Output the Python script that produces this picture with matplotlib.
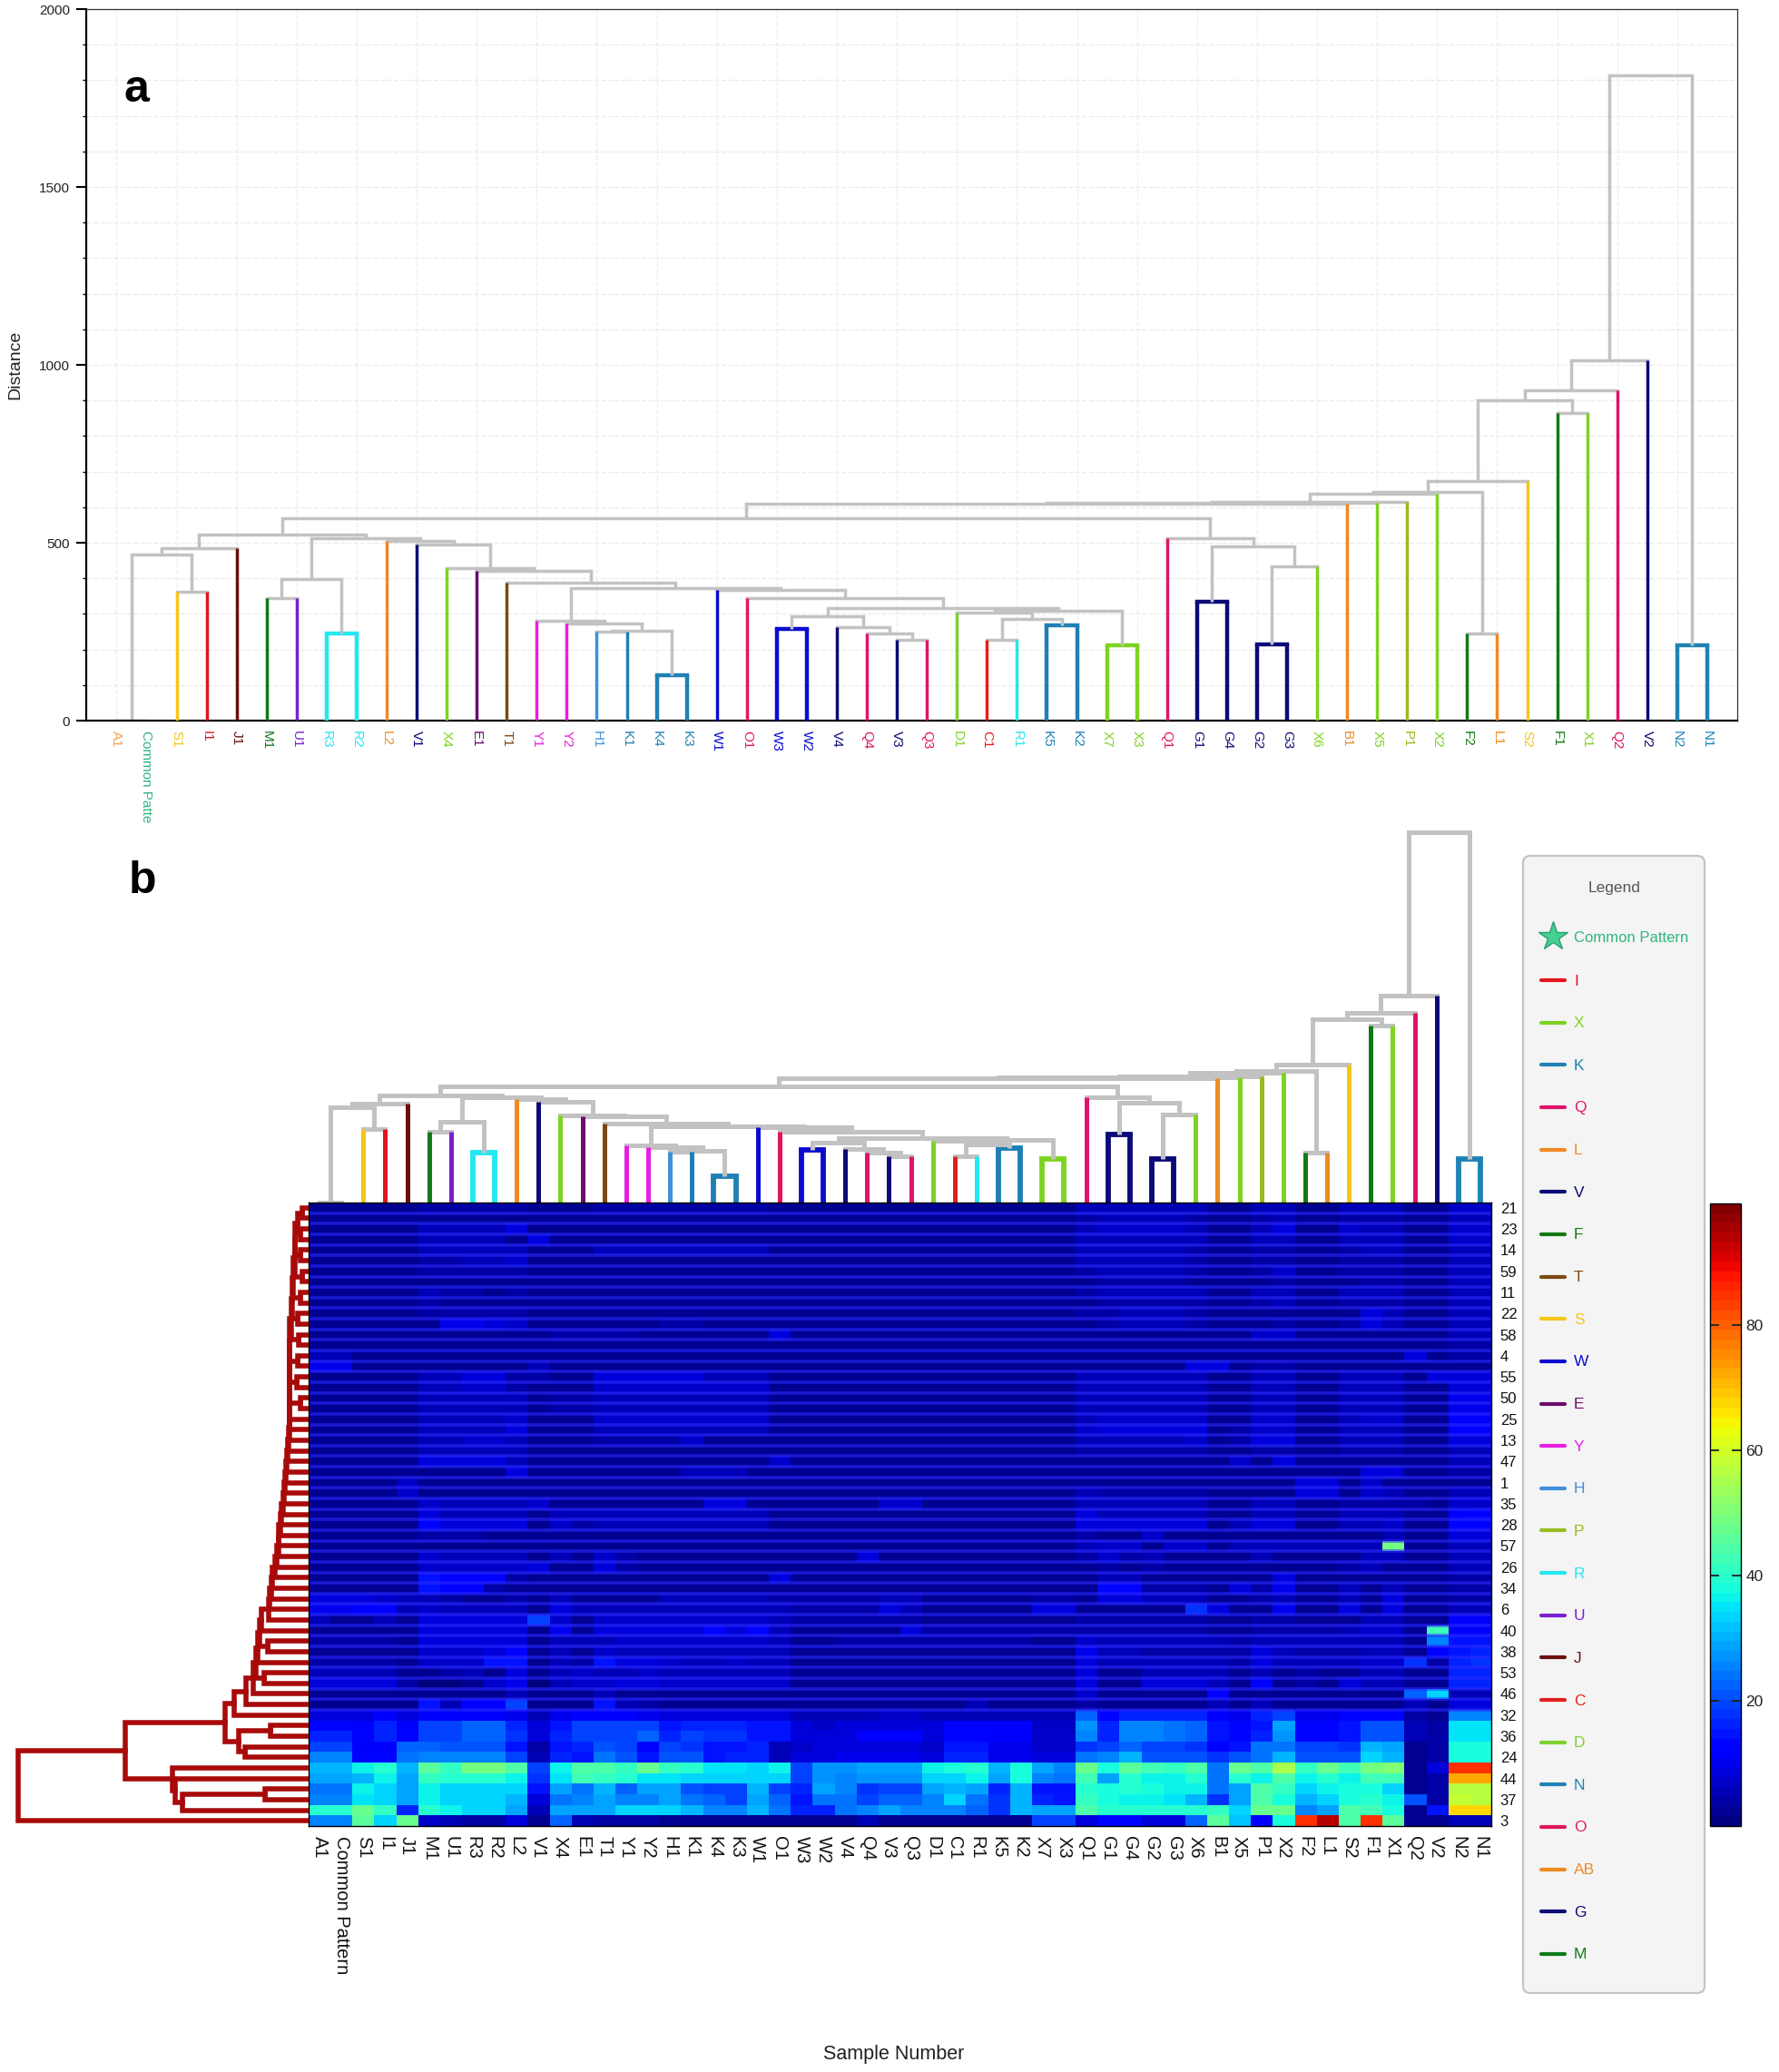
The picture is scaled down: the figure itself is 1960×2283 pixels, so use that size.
import numpy as np
import matplotlib
matplotlib.use('Agg')
import matplotlib.pyplot as plt
from matplotlib.patches import FancyBboxPatch

plt.rcParams['font.family'] = ['Liberation Sans', 'DejaVu Sans']

# sample order, same in both panels
samples = ['A1', 'Common Pattern', 'S1', 'I1', 'J1', 'M1', 'U1', 'R3', 'R2', 'L2', 'V1', 'X4', 'E1', 'T1',
           'Y1', 'Y2', 'H1', 'K1', 'K4', 'K3', 'W1', 'O1', 'W3', 'W2', 'V4', 'Q4', 'V3', 'Q3', 'D1', 'C1',
           'R1', 'K5', 'K2', 'X7', 'X3', 'Q1', 'G1', 'G4', 'G2', 'G3', 'X6', 'B1', 'X5', 'P1', 'X2', 'F2',
           'L1', 'S2', 'F1', 'X1', 'Q2', 'V2', 'N2', 'N1']

# peak numbers, only every second row is labelled
row_labels = ['21', '23', '14', '59', '11', '22', '58', '4', '55', '50', '25', '13', '47', '1', '35',
              '28', '57', '26', '34', '6', '40', '38', '53', '46', '32', '36', '24', '44', '37', '3']

legend_names = ['I', 'X', 'K', 'Q', 'L', 'V', 'F', 'T', 'S', 'W', 'E', 'Y', 'H', 'P', 'R', 'U', 'J', 'C',
                'D', 'N', 'O', 'AB', 'G', 'M']
legend_colors = ['#e2141e', '#7ed321', '#1f80b4', '#e0146a', '#f08a24', '#0a0a78', '#137a13', '#7b4a12',
                 '#f5c518', '#0b0bd0', '#6a0d6e', '#e81fe0', '#3f90d8', '#9abb1e', '#22e8f0', '#7a1fd1',
                 '#6b0f0f', '#e0201c', '#7fd030', '#1f82b4', '#e0175f', '#ee8a22', '#0a0a78', '#0e7a1a']

# sample tree: left child, right child, distance. ids above 53 are earlier merges
sample_tree = [(0, 1, 0), (2, 3, 361), (54, 55, 466), (56, 4, 485), (5, 6, 345), (7, 8, 245), (58, 59, 398),
               (16, 17, 249), (18, 19, 128), (61, 62, 252), (15, 63, 273), (14, 64, 280), (22, 23, 258),
               (26, 27, 228), (25, 67, 245), (24, 68, 264), (66, 69, 294), (29, 30, 228), (31, 32, 268),
               (71, 72, 285), (28, 73, 304), (33, 34, 213), (74, 75, 308), (70, 76, 317), (21, 77, 345),
               (20, 78, 368), (65, 79, 372), (13, 80, 388), (12, 81, 422), (11, 82, 429), (10, 83, 494),
               (9, 84, 506), (60, 85, 514), (57, 86, 523), (36, 37, 334), (38, 39, 215), (89, 40, 433),
               (88, 90, 489), (35, 91, 514), (87, 92, 570), (93, 41, 610), (94, 42, 613), (95, 43, 616),
               (96, 44, 638), (45, 46, 245), (97, 98, 643), (99, 47, 674), (48, 49, 866), (100, 101, 900),
               (102, 50, 929), (103, 51, 1014), (52, 53, 213), (104, 105, 1814)]

# row tree, same idea, ids above 58 are earlier merges
row_tree = [(0, 1, 7.5), (2, 3, 9), (4, 5, 9), (6, 7, 7.5), (8, 9, 9.5), (10, 11, 12), (12, 13, 11), (14, 15, 12),
            (16, 17, 13), (18, 19, 9),
            (59, 60, 11.7), (69, 61, 15), (70, 62, 15.5), (71, 63, 16.7), (72, 64, 18), (73, 65, 19),
            (74, 66, 20.7), (75, 67, 20.7), (76, 68, 21), (77, 20, 21), (78, 21, 21.5), (79, 22, 21.5),
            (80, 23, 22.3), (81, 24, 23), (82, 25, 24), (83, 26, 25), (84, 27, 26), (85, 28, 27), (86, 29, 28),
            (87, 30, 30), (88, 31, 31), (89, 32, 33), (90, 33, 33.5), (91, 34, 35), (92, 35, 37), (93, 36, 40),
            (94, 37, 41), (95, 38, 43), (96, 39, 44),
            (41, 42, 45), (97, 40, 52), (99, 98, 54), (100, 43, 56), (44, 45, 49), (101, 102, 58), (103, 46, 61),
            (104, 47, 69), (105, 48, 82), (49, 50, 42), (51, 52, 70), (107, 108, 77), (106, 109, 92),
            (55, 56, 48), (111, 57, 139), (54, 112, 147), (53, 113, 150), (110, 114, 202), (115, 58, 320)]

# heatmap values, one list per row, top to bottom
heat_values = [
    [3,3,3,3,3, 4,4,4,4,4, 3, 3,3,4,4,4,4,4,4,4,4, 3,3,3,3,3,3,3, 3,3,3,3,3,3,3, 5,6,6,6,6,6, 3,3,5,5,3,3,5,5,5,3,3,7,7],
    [2,2,2,2,2, 3,3,3,3,3, 3, 3,3,3,3,3,3,3,3,3,3, 3,3,3,3,3,3,3, 3,3,3,3,3,3,3, 4,5,5,5,5,4, 3,3,4,5,3,3,4,4,4,2,2,6,6],
    [3,3,3,3,3, 6,6,6,6,8, 2, 3,3,3,3,3,3,3,3,3,3, 3,3,3,3,3,3,3, 3,3,3,3,3,3,3, 5,7,7,7,7,6, 3,3,6,8,3,3,7,6,5,3,3,7,7],
    [2,2,2,2,2, 5,5,5,5,2, 8, 3,2,2,2,2,2,3,3,3,3, 3,3,3,3,3,3,3, 2,2,2,2,2,2,2, 5,5,5,5,5,5, 3,3,5,6,2,2,5,5,5,2,2,7,7],
    [3,3,3,3,3, 5,5,5,5,5, 3, 3,3,5,5,5,5,5,5,5,5, 3,3,3,3,3,3,3, 3,3,3,3,3,3,3, 5,6,6,6,6,4, 3,3,4,4,3,3,4,5,5,3,3,6,6],
    [2,2,2,2,2, 4,4,5,5,7, 2, 3,3,3,3,3,3,3,3,3,3, 3,3,3,3,3,3,3, 2,2,2,2,2,2,2, 5,5,5,5,5,4, 3,3,4,4,2,2,4,4,4,2,2,6,6],
    [3,3,3,3,3, 4,4,4,4,4, 2, 3,3,3,3,3,3,3,3,3,3, 3,3,3,3,3,3,3, 3,3,3,3,3,3,3, 4,5,5,5,5,4, 3,3,4,7,3,3,4,4,4,3,3,6,6],
    [2,2,2,2,2, 3,3,3,3,3, 2, 3,3,3,3,3,3,3,3,3,3, 2,2,2,2,2,2,2, 2,2,2,2,2,2,2, 3,4,4,4,4,3, 3,3,3,4,2,2,3,4,4,2,2,5,5],
    [3,3,3,3,3, 5,4,4,3,4, 3, 3,3,3,3,3,3,3,3,3,3, 3,3,3,3,3,3,3, 3,3,3,3,3,3,3, 4,5,5,5,5,5, 3,3,5,5,3,3,5,5,5,3,3,6,6],
    [2,2,2,2,2, 4,2,3,3,3, 2, 2,2,2,2,2,2,2,2,2,2, 2,2,2,2,2,2,2, 2,2,2,2,2,2,2, 3,4,4,4,4,4, 3,3,4,5,2,2,4,4,4,2,2,5,5],
    [3,3,3,3,3, 4,4,4,4,4, 3, 3,3,3,3,3,3,3,3,3,3, 3,3,3,3,3,3,3, 3,3,3,3,3,3,3, 4,4,5,5,5,4, 3,3,3,3,3,3,3,8,5,3,3,6,6],
    [2,2,2,2,2, 3,10,10,9,7, 2, 3,3,3,3,3,4,4,3,3,3, 3,3,3,3,3,3,3, 2,2,2,2,2,2,2, 3,4,5,5,5,4, 3,3,3,4,2,2,4,8,5,2,2,6,6],
    [3,3,3,3,3, 3,3,3,3,2, 2, 4,4,4,4,3,3,3,3,3,3, 8,3,3,3,3,3,3, 3,3,3,3,3,3,3, 3,3,3,3,3,3, 3,3,7,7,3,3,3,3,3,3,3,5,5],
    [2,2,2,2,2, 2,2,3,3,3, 2, 2,2,2,2,2,2,2,2,2,2, 2,2,2,2,2,2,2, 2,2,2,2,2,2,2, 2,2,2,2,2,2, 2,3,3,3,2,2,3,3,3,2,2,4,4],
    [6,6,3,3,3, 3,3,3,3,3, 3, 3,3,3,3,3,3,3,3,3,3, 3,3,3,3,3,3,3, 3,3,3,3,3,3,3, 3,3,3,3,3,3, 3,3,3,3,3,3,3,3,3,9,3,4,4],
    [10,10,2,2,2, 2,2,2,2,2, 5, 2,2,2,2,2,2,2,2,2,2, 2,2,2,2,2,2,2, 2,2,2,2,2,2,2, 2,2,2,2,2,8, 8,3,4,4,2,2,2,3,3,2,2,3,3],
    [3,3,3,3,3, 6,6,8,8,4, 4, 3,3,8,8,8,8,8,6,6,6, 3,3,3,3,3,3,3, 3,3,3,3,3,3,3, 6,6,6,6,6,6, 3,3,6,6,2,2,5,5,5,3,8,8,8],
    [3,3,3,3,3, 6,6,7,7,4, 2, 3,3,7,7,7,7,7,7,7,7, 3,3,3,3,3,3,3, 3,3,3,3,3,3,3, 6,6,6,6,6,6, 2,3,6,6,3,3,5,6,6,2,2,9,9],
    [2,2,2,2,2, 5,5,5,5,5, 2, 4,4,6,6,6,6,6,6,6,6, 3,3,3,3,3,3,2, 3,3,3,3,3,3,3, 5,5,5,5,5,5, 2,3,5,5,3,3,5,5,5,2,2,10,10],
    [3,3,3,3,3, 6,6,6,6,6, 2, 4,4,6,6,6,6,6,6,6,6, 3,3,3,3,3,2,2, 3,3,3,3,3,3,3, 6,5,5,5,5,5, 2,2,5,5,3,3,5,5,5,2,2,10,10],
    [2,2,2,2,2, 6,6,6,6,7, 2, 3,3,7,7,7,7,7,7,7,7, 3,3,3,3,3,3,3, 2,2,2,2,2,2,2, 6,7,7,7,7,7, 3,3,7,7,2,2,6,7,7,2,2,11,11],
    [3,3,3,3,3, 6,6,6,6,8, 2, 3,3,6,6,6,6,6,6,6,6, 3,3,3,3,3,3,3, 3,3,3,3,3,3,3, 7,8,8,8,8,8, 2,4,7,7,3,3,6,6,6,2,2,11,11],
    [2,2,2,2,2, 5,5,7,7,5, 2, 3,3,4,4,4,4,7,2,2,2, 2,2,2,2,2,2,2, 2,2,2,2,2,2,2, 5,5,5,5,5,7, 2,4,8,8,3,3,5,5,5,2,2,9,9],
    [3,3,3,3,3, 5,5,5,5,5, 2, 3,3,3,3,3,3,3,3,3,3, 3,3,3,3,3,3,3, 3,3,3,3,3,3,3, 4,4,4,4,4,4, 3,3,4,4,3,3,4,4,4,3,3,6,6],
    [2,2,2,3,3, 8,8,8,8,5, 2, 3,3,3,3,3,3,3,3,3,3, 7,2,2,2,2,2,2, 2,2,2,2,2,2,2, 3,3,3,3,3,3, 2,7,2,9,2,2,3,3,3,2,2,5,5],
    [3,3,3,3,3, 3,3,3,3,8, 2, 3,3,3,3,3,3,6,6,6,3, 3,3,3,3,3,3,3, 3,3,3,2,2,3,3, 3,3,3,3,3,3, 3,3,2,3,2,2,3,8,8,3,3,4,4],
    [3,3,3,3,7, 3,3,2,2,2, 2, 2,2,2,2,2,2,2,2,2,2, 2,2,2,2,2,2,2, 2,2,2,2,2,2,2, 3,3,3,3,3,3, 2,2,2,3,8,8,3,7,3,2,2,3,3],
    [3,3,3,3,7, 3,3,3,3,3, 3, 3,3,3,3,3,3,3,3,3,3, 3,3,3,3,3,3,3, 3,3,3,3,3,3,3, 5,4,4,4,4,4, 3,3,3,3,8,8,3,7,5,3,3,5,5],
    [2,2,2,2,2, 7,5,5,5,5, 7, 3,3,3,3,3,3,3,8,8,3, 3,3,3,3,3,7,7, 3,3,3,3,3,3,3, 5,5,5,5,5,5, 2,3,5,5,2,2,4,4,4,4,2,7,7],
    [3,3,3,3,3, 9,6,6,6,6, 2, 5,5,6,6,6,6,6,6,6,6, 3,3,3,3,3,3,3, 3,3,3,3,3,3,3, 8,5,5,5,5,5, 2,3,6,6,3,3,5,5,5,2,2,12,13],
    [2,2,2,2,2, 11,9,9,9,9, 2, 7,4,6,6,6,6,6,6,6,6, 3,3,3,3,3,3,3, 3,3,3,3,3,3,3, 8,9,9,9,9,9, 3,5,8,8,3,3,6,6,7,2,2,13,13],
    [3,3,3,3,3, 4,4,4,3,2, 2, 2,3,2,3,3,3,3,3,3,3, 3,3,3,3,3,3,3, 2,2,2,2,2,2,2, 4,2,2,7,3,3, 3,3,3,3,3,3,3,3,6,3,3,8,8],
    [3,3,3,3,3,3,2,3,3,3, 3,3,3,3,3,3,3,3,3,3, 3,3,3,3,3,3,3,3, 3,3,3,3,3,3,3, 5,7,7,2,7,7,3,5,5,5,5,5,5,5,49,2,2,5,5],
    [3,3,3,3,3,7,6,6,6,5,3,6,3,7,4,3,3,3,3,3,3,3,3,3,3,8,3,3, 3,3,3,3,3,3,3, 4,7,4,6,2,2,3,3,6,3,3,3,3,5,5,2,2,5,5],
    [3,3,3,3,2,7,7,7,7,7,8,3,3,9,4,3,3,3,3,3,3,3,3,3,3,3,3,3, 3,3,3,3,3,3,3, 3,4,3,4,3,3,3,3,3,3,3,3,4,6,3,2,2,5,5],
    [2,2,2,2,2,14,13,13,13,4,3,2,3,3,3,3,3,3,3,3,3,9,3,3,2,2,3,2, 2,2,2,2,2,2,2, 3,6,6,3,3,3,2,3,3,9,3,3,3,3,3,2,2,4,4],
    [2,2,2,2,2,14,11,11,4,2,2,2,2,2,2,3,3,3,3,3,3,3,2,2,2,2,2,2, 2,2,2,2,2,2,2, 3,13,13,4,4,4,2,8,4,10,3,3,5,3,5,2,2,4,4],
    [8,8,8,7,5,5,4,3,3,4,3,5,3,3,3,3,6,6,6,6,5,4,4,4,4,4,5,5, 3,3,3,3,3,4,4, 3,8,8,5,5,5,3,3,4,6,3,3,5,3,8,2,2,4,4],
    [10,10,12,12,6,7,6,6,5,5,3,9,5,5,5,5,5,5,5,5,5,5,4,4,4,4,8,5, 3,3,3,3,3,8,8, 3,3,3,3,3,18,8,3,3,10,3,3,8,3,8,2,2,5,5],
    [5,3,2,5,3,8,8,8,8,8,20,7,2,7,7,7,7,7,7,7,7,6,4,4,4,4,4,4, 3,3,3,3,3,3,3, 4,4,4,4,4,4,2,3,4,4,3,3,3,5,6,2,2,12,12],
    [3,3,3,3,2,8,8,8,8,8,2,10,3,8,8,8,8,8,13,8,13,6,3,3,3,3,3,8, 4,4,4,4,4,4,4, 4,4,4,4,4,4,2,3,4,4,4,4,5,7,7,2,43,11,12],
    [4,4,4,4,3,9,9,9,9,9,2,6,6,6,7,7,7,7,7,7,7,6,3,3,4,4,4,4, 4,4,4,4,4,3,3, 7,6,6,6,6,6,5,4,6,6,5,5,5,6,6,2,26,14,14],
    [3,3,3,3,3,7,7,7,8,12,2,5,3,7,6,6,6,6,6,6,6,5,3,3,3,3,3,3, 3,3,3,3,3,3,3, 10,5,5,4,4,4,4,4,8,6,4,4,4,6,6,3,12,14,17],
    [4,4,4,4,3,7,7,7,14,15,2,6,4,15,9,8,7,6,6,7,6,5,3,3,3,3,3,3, 3,3,3,3,3,3,3, 8,6,6,5,5,5,5,4,8,6,5,5,5,7,7,18,4,16,18],
    [5,5,5,5,3,2,4,5,2,8,2,6,7,6,6,7,6,6,5,6,5,5,3,2,2,3,3,3, 3,3,3,3,3,3,3, 8,2,2,5,5,5,5,2,6,2,4,3,3,6,6,2,3,16,16],
    [8,8,8,8,4,1,1,2,7,10,1,5,7,7,8,8,7,7,7,7,7,7,3,3,3,3,3,3, 3,3,3,3,3,3,3, 8,2,2,8,8,8,5,2,12,2,4,3,8,6,6,2,2,17,17],
    [2,2,2,2,2,3,3,3,3,6,2,3,3,5,3,3,2,3,3,3,3,3,2,2,2,2,2,2, 3,3,3,3,3,3,3, 7,2,2,2,3,3,12,2,3,2,3,3,3,3,3,22,34,6,6],
    [2,2,2,2,2,15,6,12,12,20,2,3,3,14,5,4,2,3,3,3,2,3,3,3,3,3,3,3, 2,2,6,2,2,2,2, 4,3,2,2,2,2,5,2,6,2,2,2,3,3,3,6,2,8,8],
    [9,9,9,11,8,12,11,12,11,10,6,10,11,11,11,10,9,9,9,9,8,8,6,6,6,6,7,7, 6,6,6,5,5,5,5, 23,13,16,16,16,16,12,10,16,20,10,10,13,13,13,4,3,25,25],
    [13,13,12,16,12,19,19,22,22,17,8,15,19,19,19,19,15,17,16,16,15,15,8,7,8,8,9,9, 8,13,13,12,12,7,7, 27,17,25,25,24,22,15,13,15,29,13,13,15,21,21,6,4,35,35],
    [16,16,13,16,13,19,19,23,23,18,9,16,19,20,20,23,17,19,18,18,15,15,9,8,9,11,11,11, 8,13,13,11,11,7,7, 25,17,26,26,24,22,15,13,16,27,13,13,15,21,21,5,4,35,35],
    [20,20,12,12,22,23,21,21,21,15,4,14,16,21,20,12,19,18,14,14,17,5,7,8,8,8,8,8, 7,15,15,10,10,7,7, 18,20,22,20,20,18,13,15,24,24,20,20,18,31,28,3,4,38,38],
    [25,25,13,13,24,26,25,26,26,20,5,16,15,24,21,14,21,21,15,16,17,5,8,8,10,10,10,10, 8,17,17,10,10,8,8, 24,26,30,21,21,21,18,21,24,30,21,21,21,34,30,3,4,38,38],
    [30,30,36,39,30,46,41,49,49,45,20,37,45,45,41,47,41,39,35,35,34,36,20,27,27,29,29,29, 36,38,40,30,38,28,26, 48,38,46,43,41,45,24,47,45,55,41,48,43,49,51,3,8,85,85],
    [28,28,31,36,29,41,39,39,39,36,18,35,43,41,39,35,35,34,33,33,33,33,19,27,26,27,27,27, 33,34,36,28,38,26,24, 43,29,39,37,36,39,24,39,37,45,37,39,37,43,43,3,4,72,72],
    [24,24,36,33,28,37,33,34,34,33,14,29,24,31,22,28,29,21,20,20,31,20,16,28,26,18,20,20, 28,31,29,16,31,14,14, 39,38,39,38,36,37,24,29,45,41,33,36,38,38,34,3,4,56,56],
    [26,26,35,33,28,36,34,33,33,31,9,24,26,28,26,26,28,24,22,20,29,22,14,24,24,20,22,22, 26,33,24,18,31,16,14, 41,38,37,36,35,31,18,29,45,38,31,34,38,39,36,21,4,58,56],
    [39,39,48,41,17,39,37,34,34,28,6,28,28,28,33,33,33,31,26,26,30,24,17,17,24,26,28,26, 26,26,22,18,31,29,28, 44,40,39,39,39,39,41,34,47,48,26,28,45,43,38,3,15,68,68],
    [26,26,46,33,47,7,5,4,4,8,3,23,6,4,4,4,3,3,3,3,3,3,2,2,2,6,3,2, 3,3,3,3,3,20,20, 8,13,13,8,9,22,46,32,12,38,84,94,44,84,46,3,3,6,6],
]

W, H = 1960, 2283
GREY = '#c2c2c2'
color_of = dict(zip(legend_names, legend_colors))
color_of['B'] = color_of['AB']


def sample_color(name):
    return color_of.get(name[:-1], GREY)


def px_axes(left, top, right, bottom):
    # axes from pixel edges, y counted from the top of the image
    return fig.add_axes([left / W, 1 - bottom / H, (right - left) / W, (bottom - top) / H])


def draw_sample_tree(ax, lw, lw_pair):
    n = len(samples)
    x = list(range(n))
    h = [0] * n
    for a, b, d in sample_tree:
        xa, xb = x[a], x[b]
        same = a < n and b < n and samples[a][:-1] == samples[b][:-1]
        col_a = sample_color(samples[a]) if a < n else GREY
        col_b = sample_color(samples[b]) if b < n else GREY
        w = lw_pair if same else lw
        ax.plot([xa, xa], [h[a], d], color=col_a, lw=w, solid_capstyle='butt', zorder=3 if a < n else 2)
        ax.plot([xb, xb], [h[b], d], color=col_b, lw=w, solid_capstyle='butt', zorder=3 if b < n else 2)
        ax.plot([xa, xb], [d, d], color=col_a if same else GREY, lw=w, solid_capstyle='projecting', zorder=2)
        x.append((xa + xb) / 2)
        h.append(d)


def draw_row_tree(ax, lw):
    n = 59
    y = list(range(n))
    h = [0] * n
    for a, b, d in row_tree:
        ax.plot([h[a], d, d, h[b]], [y[a], y[a], y[b], y[b]], color='#a80a0a', lw=lw, solid_joinstyle='miter')
        y.append((y[a] + y[b]) / 2)
        h.append(d)


fig = plt.figure(figsize=(W / 100, H / 100), dpi=100, facecolor='white')

# panel a
ax = px_axes(95, 10, 1914, 794)
ax.set_xlim(-1.01, 54)
ax.set_ylim(0, 2000)
draw_sample_tree(ax, 2.5, 3.2)
ax.set_yticks([0, 500, 1000, 1500, 2000])
ax.set_yticks(np.arange(0, 2001, 100), minor=True)
ax.set_xticks(range(len(samples)))
ax.set_xticklabels([s[:12] for s in samples], rotation=-90, fontsize=11, va='top', ha='center')
for lab, s in zip(ax.get_xticklabels(), samples):
    lab.set_color('#2db67c' if s.startswith('Common') else '#f0a050' if s == 'A1' else sample_color(s))
ax.tick_params(axis='x', length=0, pad=8)
ax.tick_params(axis='y', which='major', length=8, width=1.5, labelsize=11, pad=5, labelcolor='#222222')
ax.tick_params(axis='y', which='minor', length=3, width=1)
ax.set_ylabel('Distance', fontsize=14, color='#222222')
ax.yaxis.set_label_coords(-0.0385, 0.50)
ax.grid(True, axis='y', which='both', color='#ebebeb', ls='--', lw=1)
for i in range(0, len(samples), 2):
    ax.axvline(i, color='#efefef', ls='--', lw=1, zorder=0)
ax.set_axisbelow(True)
for side in ['left', 'bottom']:
    ax.spines[side].set_linewidth(1.6)
for side in ['top', 'right']:
    ax.spines[side].set_linewidth(0.9)
    ax.spines[side].set_color('#333333')

# panel b, top dendrogram
ax_top = px_axes(340, 909, 1643, 1325)
ax_top.set_xlim(-0.5, 53.5)
ax_top.set_ylim(0, 1850)
draw_sample_tree(ax_top, 3.6, 4.2)
ax_top.axis('off')

# heatmap
ax_heat = px_axes(340, 1325, 1643, 2012)
data = np.array(heat_values)
im = ax_heat.imshow(data, cmap=plt.get_cmap('jet', 64), vmin=0, vmax=99.5, aspect='auto', interpolation='nearest')
# the faint lighter line between the low rows
for k in range(0, 48):
    ax_heat.axhline(k + 0.5, color='#2a2aff', alpha=0.6, lw=2.6)
ax_heat.set_xticks(range(len(samples)))
ax_heat.set_xticklabels(samples, rotation=-90, fontsize=14.5, va='top', ha='center', color='#111111')
ax_heat.yaxis.tick_right()
ax_heat.set_yticks(range(0, 59, 2))
ax_heat.set_yticklabels(row_labels, fontsize=12, ha='left', color='#111111')
ax_heat.tick_params(axis='x', length=0, pad=8)
ax_heat.tick_params(axis='y', length=0, pad=7)
for sp in ax_heat.spines.values():
    sp.set_linewidth(1.0)

# left dendrogram
ax_left = px_axes(10, 1325, 340, 2012)
ax_left.set_xlim(330, 0)
ax_left.set_ylim(58.5, -0.5)
draw_row_tree(ax_left, 4.0)
ax_left.axis('off')

# colorbar
cax = px_axes(1884, 1326, 1918, 2012)
cb = fig.colorbar(im, cax=cax)
cb.set_ticks([20, 40, 60, 80])
cb.ax.tick_params(direction='in', length=7, width=1.3, left=True, right=True, labelsize=12.5, pad=4,
                  color='#222222', labelcolor='#222222')
cb.outline.set_linewidth(1.0)

# everything placed by pixel: legend panel, letters, x title
over = fig.add_axes([0, 0, 1, 1], facecolor='none')
over.set_xlim(0, W)
over.set_ylim(H, 0)
over.axis('off')
over.add_patch(FancyBboxPatch((1678, 943), 200, 1253, boxstyle='round,pad=0,rounding_size=8', fc='#f4f4f4',
                              ec='#c4c4c4', lw=1.6))
over.text(1779, 979, 'Legend', fontsize=12.5, color='#555555', ha='center', va='center')
over.plot([1711], [1032], marker='*', ms=24, mfc='#45cf93', mec='#2aa070', mew=1)
over.text(1734, 1034, 'Common Pattern', fontsize=12, color='#2db67c', va='center')
for i, (name, col) in enumerate(zip(legend_names, legend_colors)):
    yy = 1080 + i * 46.65
    over.plot([1698, 1724], [yy, yy], color=col, lw=3, solid_capstyle='round')
    over.text(1734, yy + 1, name, fontsize=12.5, color=col, va='center')
over.text(150, 99, 'a', fontsize=36, fontweight='bold', ha='center', va='center', color='black')
over.text(157, 971, 'b', fontsize=36, fontweight='bold', ha='center', va='center', color='black')
over.text(985, 2264, 'Sample Number', fontsize=15.5, ha='center', va='center', color='#222222')

fig.savefig('out.png', dpi=100)
